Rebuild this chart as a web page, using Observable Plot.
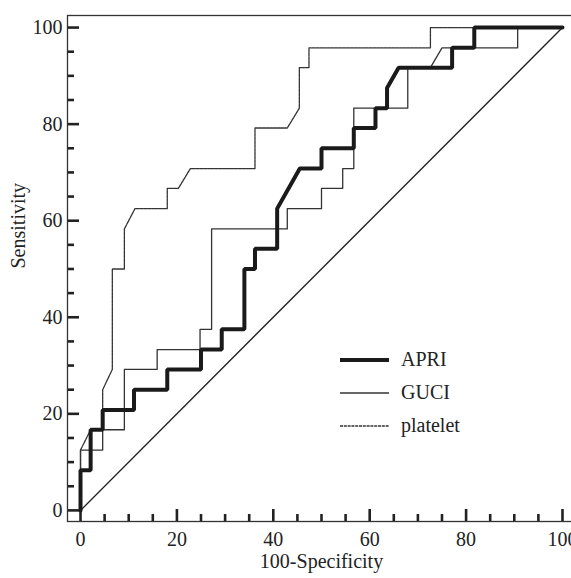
<!DOCTYPE html>
<html>
<head>
<meta charset="utf-8">
<script src="https://cdn.jsdelivr.net/npm/d3@7"></script>
<script src="https://cdn.jsdelivr.net/npm/@observablehq/plot@0.6"></script>
<style>
  html, body { margin: 0; padding: 0; background: #fff; overflow: hidden; }
  #wrap { position: relative; width: 571px; height: 578px; overflow: hidden; }
  #wrap > svg { max-width: none !important; width: 580px !important; height: 578px !important; display: block; }
  #legend { position: absolute; left: 340px; top: 343px; font-family: "Liberation Serif", serif; font-size: 20px; color: #222; }
  #legend .row { display: flex; align-items: center; height: 33px; }
  #legend svg { margin-right: 12px; }
</style>
</head>
<body>
<div id="wrap"><div id="legend"></div></div>
<script>
// ROC curve data (100-Specificity, Sensitivity)
const apriX = [0, 0, 2.1, 2.1, 4.6, 4.6, 11.1, 11.1, 18, 18, 25, 25, 29.3, 29.3, 34, 34, 36.2, 36.2, 40.8, 40.8, 45.5, 50, 50, 56.7, 56.7, 61.2, 61.2, 63.6, 63.6, 66, 77.1, 77.1, 81.7, 81.7, 100];
const apriY = [0, 8.3, 8.3, 16.7, 16.7, 20.8, 20.8, 25, 25, 29.2, 29.2, 33.3, 33.3, 37.5, 37.5, 50, 50, 54.2, 54.2, 62.5, 70.8, 70.8, 75, 75, 79.2, 79.2, 83.3, 83.3, 87.5, 91.7, 91.7, 95.8, 95.8, 100, 100];

const guciX = [0, 0, 4.6, 4.6, 9.1, 9.1, 15.9, 15.9, 24.8, 24.8, 27.2, 27.2, 42.9, 42.9, 50, 50, 54.4, 54.4, 56.7, 56.7, 67.9, 67.9, 72.6, 75, 90.7, 90.7, 100];
const guciY = [0, 12.5, 12.5, 16.7, 16.7, 29.2, 29.2, 33.3, 33.3, 37.5, 37.5, 58.3, 58.3, 62.5, 62.5, 66.7, 66.7, 70.8, 70.8, 83.3, 83.3, 91.7, 91.7, 95.8, 95.8, 100, 100];

const plateletX = [0, 0, 2.1, 4.6, 4.6, 6.6, 6.6, 9.1, 9.1, 11.3, 18, 18, 20.3, 22.8, 36.2, 36.2, 42.9, 45.4, 45.4, 47.4, 47.4, 72.6, 72.6, 100];
const plateletY = [0, 12.5, 16.7, 16.7, 25, 29.2, 50, 50, 58.3, 62.5, 62.5, 66.7, 66.7, 70.8, 70.8, 79.2, 79.2, 83.3, 91.7, 91.7, 95.8, 95.8, 100, 100];

const chanceX = [0, 100];
const chanceY = [0, 100];

const majorTicks = [0, 20, 40, 60, 80, 100];
const minorTicks = [5, 10, 15, 25, 30, 35, 45, 50, 55, 65, 70, 75, 85, 90, 95];

const seriesNames = ["APRI", "GUCI", "platelet"];

const toPts = (xs, ys) => xs.map((x, i) => ({x, y: ys[i]}));
const apri = toPts(apriX, apriY);
const guci = toPts(guciX, guciY);
const platelet = toPts(plateletX, plateletY);
const chance = toPts(chanceX, chanceY);

const xDom = [-2.7, 102.7], yDom = [-2.3, 102.5];
const W = 580, H = 578, mL = 67, mR = 5, mT = 15, mB = 57;
const kx = (W - mL - mR) / (xDom[1] - xDom[0]);
const ky = (H - mT - mB) / (yDom[1] - yDom[0]);
const majLen = 12, minLen = 7;

const chart = Plot.plot({
  width: W, height: H,
  marginLeft: mL, marginRight: mR, marginTop: mT, marginBottom: mB,
  x: {domain: xDom},
  y: {domain: yDom},
  style: {fontFamily: "Liberation Serif, serif", fontSize: "20px", color: "#222", background: "white"},
  marks: [
    Plot.axisX(majorTicks, {tickSize: 0, tickPadding: 10, label: null, fontSize: 20}),
    Plot.axisY(majorTicks, {tickSize: 0, tickPadding: 5, label: null, fontSize: 20}),
    Plot.ruleX(majorTicks, {x: d => d, y1: yDom[0], y2: yDom[0] + majLen / ky, stroke: "#222", strokeWidth: 2.6}),
    Plot.ruleX(minorTicks, {x: d => d, y1: yDom[0], y2: yDom[0] + minLen / ky, stroke: "#222", strokeWidth: 2.6}),
    Plot.ruleY(majorTicks, {y: d => d, x1: xDom[0], x2: xDom[0] + majLen / kx, stroke: "#222", strokeWidth: 2.6}),
    Plot.ruleY(minorTicks, {y: d => d, x1: xDom[0], x2: xDom[0] + minLen / kx, stroke: "#222", strokeWidth: 2.6}),
    Plot.line(chance, {x: "x", y: "y", stroke: "#222", strokeWidth: 1.4}),
    Plot.line(platelet, {x: "x", y: "y", stroke: "#333", strokeWidth: 1.3, strokeDasharray: "3,0.8"}),
    Plot.line(guci, {x: "x", y: "y", stroke: "#333", strokeWidth: 1.3}),
    Plot.line(apri, {x: "x", y: "y", stroke: "#1a1a1a", strokeWidth: 4, strokeLinejoin: "miter"}),
    Plot.frame({stroke: "#333", strokeWidth: 1.3}),
    Plot.text(["100-Specificity"], {frameAnchor: "bottom", dy: 46, fontSize: 20, fill: "#222"}),
    Plot.text(["Sensitivity"], {frameAnchor: "left", dx: -49, rotate: -90, fontSize: 20, fill: "#222"})
  ]
});
document.getElementById("wrap").prepend(chart);

// Legend
const legendStyles = [
  {w: 4, dash: null, c: "#1a1a1a"},
  {w: 1.3, dash: null, c: "#333"},
  {w: 1.3, dash: "3,0.8", c: "#333"}
];
const leg = document.getElementById("legend");
seriesNames.forEach((name, i) => {
  const row = document.createElement("div");
  row.className = "row";
  const s = legendStyles[i];
  row.innerHTML = `<svg width="49" height="10"><line x1="0" x2="49" y1="5" y2="5" stroke="${s.c}" stroke-width="${s.w}" ${s.dash ? `stroke-dasharray="${s.dash}"` : ""}/></svg><span>${name}</span>`;
  leg.appendChild(row);
});
</script>
</body>
</html>
